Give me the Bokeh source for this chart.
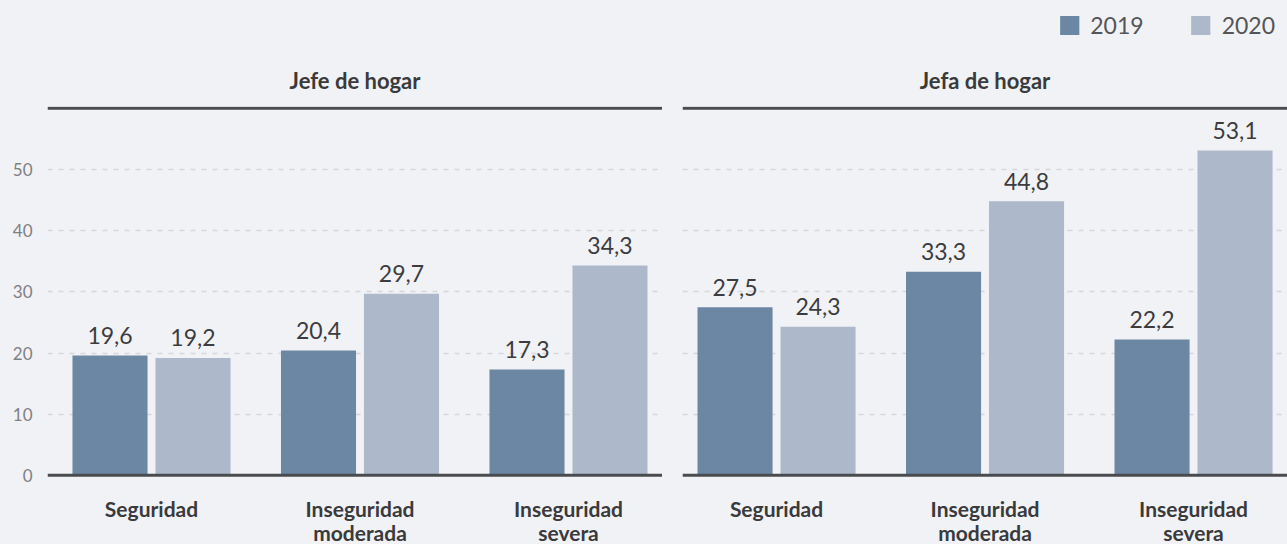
import numpy as np
from bokeh.plotting import figure
from bokeh.models import ColumnDataSource, Range1d, FixedTicker, Span, Legend, LegendItem
from bokeh.layouts import row, column
from bokeh.transform import dodge
from bokeh.embed import file_html
from bokeh.resources import INLINE
from bokeh.core.properties import value

# ---- data ----
categories = ["Seguridad", "Inseguridad\nmoderada", "Inseguridad\nsevera"]
years = ["2019", "2020"]
jefe_2019 = [19.6, 20.4, 17.3]
jefe_2020 = [19.2, 29.7, 34.3]
jefa_2019 = [27.5, 33.3, 22.2]
jefa_2020 = [24.3, 44.8, 53.1]
panel_titles = ["Jefe de hogar", "Jefa de hogar"]
y_ticks = [0, 10, 20, 30, 40, 50]
grid_ticks = [10, 20, 30, 40, 50]
y_top = 60

# ---- style ----
BG = "#f1f2f6"
DARK = "#6b87a3"
LIGHT = "#adb9cb"
AXC = "#4a4b4e"
FONT = "Lato"
OFF = 0.199
BW = 0.36
HEAD_H = 48
PANEL_H = 544 - HEAD_H
TOP_BORDER = 58
PX = 367 / 60.0          # pixels per unit
Y_END = y_top + 0.3
Y_START = Y_END - (PANEL_H - TOP_BORDER) / PX


def fmt(v):
    return f"{v:.1f}".replace(".", ",")


def make_panel(title, v19, v20, width, border_left, x_start, x_end, show_y):
    x = np.arange(len(categories))
    src = ColumnDataSource(dict(x=x, v19=v19, v20=v20, cat=categories,
                                l19=[fmt(v) for v in v19], l20=[fmt(v) for v in v20]))
    p = figure(width=width, height=PANEL_H, x_range=Range1d(x_start, x_end),
               y_range=Range1d(Y_START, Y_END), output_backend="svg", toolbar_location=None,
               min_border_left=border_left, min_border_right=0, min_border_top=TOP_BORDER,
               min_border_bottom=0, background_fill_color=BG, border_fill_color=BG,
               outline_line_color=None)
    p.vbar(x=dodge("x", -OFF, range=p.x_range), top="v19", bottom=0, width=BW,
           source=src, fill_color=DARK, line_color=None)
    p.vbar(x=dodge("x", OFF, range=p.x_range), top="v20", bottom=0, width=BW,
           source=src, fill_color=LIGHT, line_color=None)
    for col, lab, off in (("v19", "l19", -OFF), ("v20", "l20", OFF)):
        p.text(x=dodge("x", off, range=p.x_range), y=col, text=lab, source=src,
               text_align="center", text_baseline="alphabetic", y_offset=-20,
               text_font=value(FONT), text_font_size="23px", text_color="#3c3c3e")
    # category labels below the baseline
    p.text(x="x", y=0, text="cat", source=src, text_align="center", text_baseline="top",
           y_offset=21, text_font=value(FONT), text_font_style="bold",
           text_font_size="21px", text_line_height=0.95, text_color="#3a3a3c")

    p.add_layout(Span(location=y_top, dimension="width", line_color=AXC, line_width=3))
    p.add_layout(Span(location=0, dimension="width", line_color=AXC, line_width=3))

    p.xgrid.visible = False
    p.ygrid.ticker = FixedTicker(ticks=grid_ticks)
    p.ygrid.grid_line_color = "#d5d7db"
    p.ygrid.grid_line_width = 1.7
    p.ygrid.grid_line_dash = "5 6"
    p.xaxis.visible = False

    if show_y:
        p.yaxis.ticker = FixedTicker(ticks=y_ticks)
        p.yaxis.axis_line_color = None
        p.yaxis.major_tick_line_color = None
        p.yaxis.minor_tick_line_color = None
        p.yaxis.major_label_standoff = 9
        p.yaxis.major_label_text_font = FONT
        p.yaxis.major_label_text_font_size = "17px"
        p.yaxis.major_label_text_color = "#808083"
    else:
        p.yaxis.visible = False

    p.title.text = title
    p.title.align = "center"
    p.title.text_font = FONT
    p.title.text_font_style = "bold"
    p.title.text_font_size = "22px"
    p.title.text_color = "#3a3a3c"
    p.title.standoff = 26
    return p


left = make_panel(panel_titles[0], jefe_2019, jefe_2020, 662, 47,
                  -0.4988, -0.4988 + 615 / 208.5, True)
right = make_panel(panel_titles[1], jefa_2019, jefa_2020, 625, 20,
                   -0.451, -0.451 + 605 / 208.5, False)

# legend header (bars of the real data lie outside its visible ranges)
head = figure(width=1287, height=HEAD_H, x_range=Range1d(10, 11), y_range=Range1d(100, 101),
              output_backend="svg", toolbar_location=None, min_border_left=0,
              min_border_right=12, min_border_top=11, min_border_bottom=0,
              background_fill_color=BG, border_fill_color=BG, outline_line_color=None)
head.axis.visible = False
head.grid.visible = False
hsrc = ColumnDataSource(dict(x=np.arange(len(categories)), v19=jefe_2019, v20=jefe_2020))
h1 = head.vbar(x="x", top="v19", bottom=0, width=0.1, source=hsrc, fill_color=DARK, line_color=None)
h2 = head.vbar(x="x", top="v20", bottom=0, width=0.1, source=hsrc, fill_color=LIGHT, line_color=None)
legend = Legend(items=[LegendItem(label=years[0], renderers=[h1]),
                       LegendItem(label=years[1], renderers=[h2])],
                orientation="horizontal", location="top_right",
                glyph_width=24, glyph_height=24, label_height=24, label_standoff=9,
                spacing=45, label_text_font=FONT, label_text_font_size="23px",
                label_text_color="#555558", label_text_baseline="middle",
                background_fill_alpha=0, border_line_color=None, padding=0, margin=0)
head.add_layout(legend)

layout = column(head, row(left, right, spacing=0), spacing=0)
layout.styles = {"background-color": BG}
open("out.html", "w").write(file_html(layout, INLINE))
